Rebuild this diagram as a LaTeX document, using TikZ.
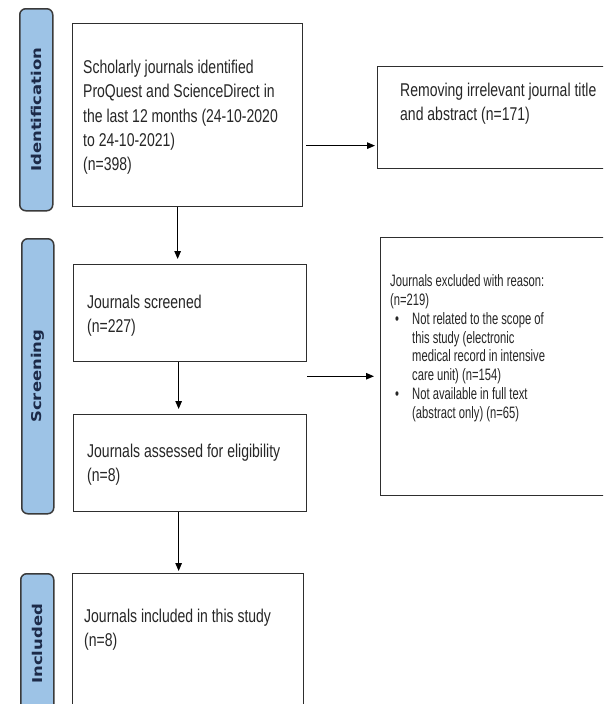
\documentclass[tikz,border=0pt]{standalone}
\usepackage{graphicx}
\usepackage{fontspec}
\usetikzlibrary{arrows.meta,calc}
\newfontfamily\boxfont[FakeStretch=0.757]{Liberation Sans}
\newfontfamily\exfont[FakeStretch=0.68]{Liberation Sans}
\newfontfamily\barfont{DejaVu Sans}
\definecolor{barblue}{HTML}{9DC3E6}
\definecolor{barline}{HTML}{3A3A3A}
\definecolor{bartext}{HTML}{1C2A48}
\definecolor{boxline}{HTML}{2E2E2E}
\definecolor{txt}{HTML}{262626}
\begin{document}
\begin{tikzpicture}[x=1pt,y=-1pt,
  phasebar/.style={draw=barline,fill=barblue,line width=1.5pt,rounded corners=6pt,anchor=north west,inner sep=0},
  bartxt/.style={rotate=90,text=bartext,font={\barfont\bfseries\fontsize{13.5}{16}\selectfont},inner sep=0},
  flowbox/.style={draw=boxline,line width=1.3pt,fill=white,anchor=north west,inner sep=0},
  boxtxt/.style={anchor=north west,inner sep=0,align=left,text=txt,font={\boxfont\fontsize{18.5}{24.3}\selectfont}},
  extxt/.style={anchor=north west,inner sep=0,align=left,text=txt,font={\exfont\fontsize{16.5}{18.8}\selectfont}},
  arr/.style={draw=black,line width=1.1pt,-{Triangle[length=8pt,width=6.5pt]}}]
\useasboundingbox (0,0) rectangle (603,704);
\clip (0,0) rectangle (603,704);
\fill[white] (0,0) rectangle (603,704);

% phase bars
\node[phasebar,minimum width=33pt,minimum height=202pt] (idbar) at (19,8) {};
\node[bartxt] at (idbar.center) {\scalebox{1.22}[1]{Identification}};
\node[phasebar,minimum width=32pt,minimum height=275pt] (scbar) at (21,238) {};
\node[bartxt] at (scbar.center) {\scalebox{1.22}[1]{Screening}};
\node[phasebar,minimum width=33pt,minimum height=140pt] (inbar) at (20,573) {};
\node[bartxt] at (inbar.center) {\scalebox{1.22}[1]{Included}};

% boxes
\node[flowbox,minimum width=230pt,minimum height=183pt] (b1) at (72,23) {};
\node[flowbox,minimum width=250pt,minimum height=102pt] (rem) at (377,66) {};
\node[flowbox,minimum width=233pt,minimum height=97pt] (b2) at (73,264) {};
\node[flowbox,minimum width=233pt,minimum height=97pt] (b3) at (73,414) {};
\node[flowbox,minimum width=250pt,minimum height=258pt] (ex) at (380,237) {};
\node[flowbox,minimum width=231pt,minimum height=150pt] (b4) at (72,573) {};

% texts
\node[boxtxt] (t1) at ($(b1.north west)+(11,37)$) {Scholarly journals identified\\ProQuest and ScienceDirect in\\the last 12 months (24-10-2020\\to 24-10-2021)\\(n=398)};
\node[boxtxt] (trem) at ($(rem.north west)+(23,16.5)$) {Removing irrelevant journal title\\and abstract (n=171)};
\node[boxtxt] (t2) at ($(b2.north west)+(14,30.5)$) {Journals screened\\(n=227)};
\node[boxtxt] (t3) at ($(b3.north west)+(14,29.5)$) {Journals assessed for eligibility\\(n=8)};
\node[boxtxt] (t4) at ($(b4.north west)+(12,35.5)$) {Journals included in this study\\(n=8)};
\node[extxt] (tex) at ($(ex.north west)+(10,37.5)$) {Journals excluded with reason:\\(n=219)\\
\hspace*{5pt}\makebox[17pt][l]{•}Not related to the scope of\\
\hspace*{22pt}this study (electronic\\
\hspace*{22pt}medical record in intensive\\
\hspace*{22pt}care unit) (n=154)\\
\hspace*{5pt}\makebox[17pt][l]{•}Not available in full text\\
\hspace*{22pt}(abstract only) (n=65)};

% connectors
\draw[arr,shorten <=3pt,shorten >=2pt] ([yshift=-30.5pt]b1.east) -- ([yshift=-30.5pt]b1.east -| rem.west);
\draw[arr,shorten >=5pt] ([xshift=-10pt]b1.south) -- ([xshift=-10pt]b1.south |- b2.north);
\draw[arr,shorten >=5pt] ([xshift=-11.5pt]b2.south) -- ([xshift=-11.5pt]b2.south |- b3.north);
\draw[arr,shorten >=2pt] ([xshift=-11.5pt]b3.south) -- ([xshift=-11.5pt]b3.south |- b4.north);
\coordinate (s) at ($(b2.south east)!0.27!(b3.north east)$);
\draw[arr,shorten >=6pt] (s) -- (s -| ex.west);
\end{tikzpicture}
\end{document}
